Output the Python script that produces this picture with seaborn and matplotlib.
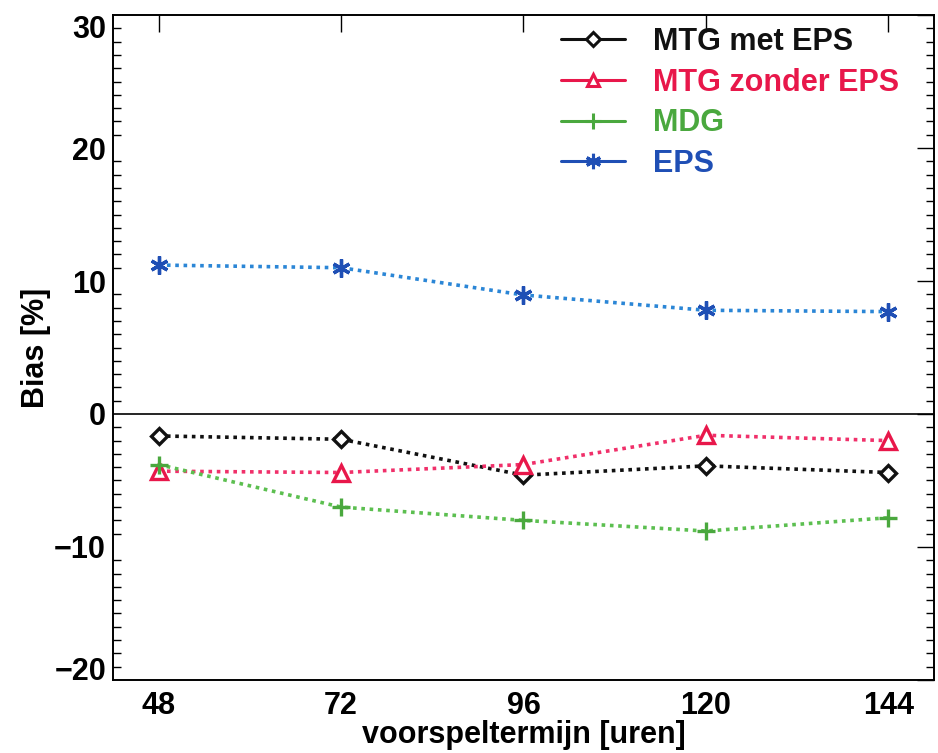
import matplotlib
matplotlib.use("Agg")
import matplotlib.pyplot as plt
from matplotlib.lines import Line2D
from matplotlib.ticker import MultipleLocator
from matplotlib.transforms import ScaledTranslation
import seaborn as sns
import pandas as pd

# ---- data ----
lead_hours = [48, 72, 96, 120, 144]
mtg_met_eps = [-1.65, -1.9, -4.6, -3.9, -4.4]
mtg_zonder_eps = [-4.3, -4.4, -3.8, -1.6, -2.0]
mdg = [-3.8, -7.0, -8.0, -8.8, -7.8]
eps = [11.2, 11.0, 8.95, 7.8, 7.7]
series_names = ["MTG met EPS", "MTG zonder EPS", "MDG", "EPS"]
y_ticks = [-20, -10, 0, 10, 20, 30]

sns.set_theme(style="white")
plt.rcParams["font.family"] = ["Liberation Sans", "DejaVu Sans"]
plt.rcParams["font.weight"] = "bold"
plt.rcParams["text.color"] = "black"
plt.rcParams["axes.labelcolor"] = "black"
plt.rcParams["xtick.color"] = "black"
plt.rcParams["ytick.color"] = "black"

fig = plt.figure(figsize=(9.38, 7.53), dpi=100)
ax = fig.add_axes([0.1205, 0.097, 0.8752, 0.883])

styles = {
    "MTG met EPS": dict(color="#111111", marker="D", ms=8, mfc="white", mec="#111111", lc="#111111", tc="#111111"),
    "MTG zonder EPS": dict(color="#e8174a", marker="^", ms=11, mfc="white", mec="#e8174a", lc="#f0306a", tc="#e8174a"),
    "MDG": dict(color="#4aa83e", marker="+", ms=13, mfc="none", mec="#4aa83e", lc="#5cbf50", tc="#4aa83e"),
    "EPS": dict(color="#1f4fb5", marker=(6, 2, 0), ms=13, mfc="none", mec="#1f4fb5", lc="#2b86d6", tc="#1f4fb5"),
}

values = {"MTG met EPS": mtg_met_eps, "MTG zonder EPS": mtg_zonder_eps, "MDG": mdg, "EPS": eps}

ax.axhline(0, color="black", lw=1.2, zorder=1)

for name in series_names:
    st = styles[name]
    df = pd.DataFrame({"x": lead_hours, "y": values[name]})
    sns.lineplot(data=df, x="x", y="y", ax=ax, color=st["lc"], linestyle=(0, (1, 1.3)),
                 lw=2.6, marker=None, zorder=2)
    ax.plot(df["x"], df["y"], linestyle="none", marker=st["marker"], ms=st["ms"],
            mfc=st["mfc"], mec=st["mec"], mew=2.4, zorder=3)

ax.set_xlim(42, 150)
ax.set_ylim(-20, 30)
ax.set_xticks(lead_hours)
ax.set_yticks(y_ticks)
ax.yaxis.set_minor_locator(MultipleLocator(1))
ax.tick_params(axis="both", which="major", direction="in", length=12, width=1.0,
               top=True, right=True, labelsize=22, color="black", labelcolor="black", pad=8)
ax.tick_params(axis="y", which="major", pad=5)
ax.tick_params(axis="y", which="minor", direction="in", length=6, width=1.0,
               left=True, right=True, color="black")
for lbl in ax.get_xticklabels() + ax.get_yticklabels():
    lbl.set_fontweight("bold")

# shift the edge labels inward like the original
for t in ax.yaxis.get_major_ticks():
    loc = t.get_loc()
    if loc == y_ticks[-1]:
        t.label1.set_transform(t.label1.get_transform() + ScaledTranslation(0, -11 / 100, fig.dpi_scale_trans))
    elif loc == y_ticks[0]:
        t.label1.set_transform(t.label1.get_transform() + ScaledTranslation(0, 11 / 100, fig.dpi_scale_trans))

ax.set_xlabel("voorspeltermijn [uren]", fontsize=22, fontweight="bold", labelpad=-1, color="black")
ax.set_ylabel("Bias [%]", fontsize=22, fontweight="bold", labelpad=2, color="black")
for s in ax.spines.values():
    s.set_color("black")
    s.set_linewidth(1.4)

handles = []
for name in series_names:
    st = styles[name]
    handles.append(Line2D([0, 1], [0, 1], color=st["color"], lw=2.2,
                          marker=st["marker"], ms=st["ms"] * 0.85, mfc=st["mfc"],
                          mec=st["mec"], mew=2.2))
leg = ax.legend(handles, series_names, loc="upper left", bbox_to_anchor=(0.546, 0.982),
                frameon=False, fontsize=22, handlelength=2.1, handletextpad=0.9,
                labelspacing=0.35, borderpad=0, borderaxespad=0)
for txt, name in zip(leg.get_texts(), series_names):
    txt.set_color(styles[name]["tc"])
    txt.set_fontweight("bold")

fig.savefig("out.png", dpi=100, facecolor="white")
